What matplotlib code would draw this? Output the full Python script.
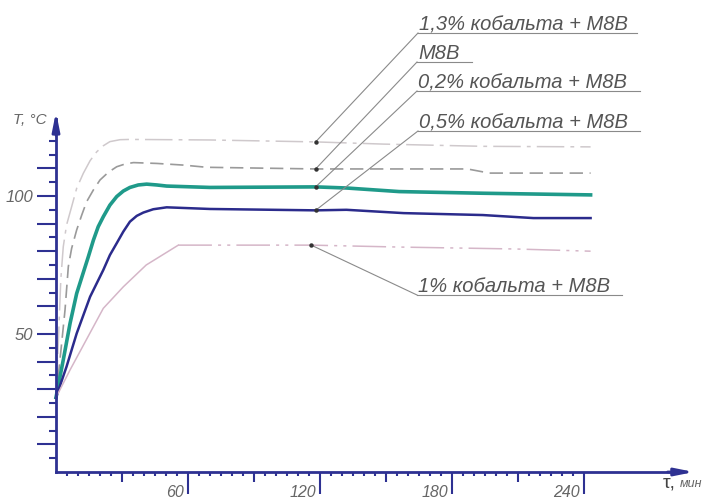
import numpy as np
import matplotlib
matplotlib.use("Agg")
import matplotlib.pyplot as plt
from matplotlib.ticker import FixedLocator, FixedFormatter

# ---------------- data ----------------
t_13 = [0, 1.2, 2.2, 3.3, 4.8, 7.1, 9.4, 12.4, 15.5, 18.5, 21.5, 24.5, 29.1, 33.6, 70, 118, 149, 194, 243]
v_13 = [27, 50, 70, 81.6, 89.5, 96.1, 102.8, 108.2, 112.8, 116, 118.2, 119.7, 120.4, 120.5, 120.3, 119.6, 118.8, 118, 117.8]

t_m8b = [0, 1.8, 4.1, 5.6, 7.1, 9.4, 11.7, 13.9, 17, 20, 23.8, 27.6, 31.4, 35.2, 45.8, 57.9, 68.5, 118, 187, 197, 243]
v_m8b = [27, 40.6, 58.7, 74.4, 81, 87.7, 93.1, 97.9, 102.2, 105.8, 108.6, 110.6, 111.6, 112.1, 111.8, 111.2, 110.4, 109.8, 109.8, 108.3, 108.3]

t_02 = [0, 3.3, 6.4, 9.4, 13.5, 14.7, 17, 19.2, 21.5, 24.5, 27.6, 30.6, 33.6, 37.4, 41.2, 45.8, 50.3, 70, 118, 132, 156, 194, 243]
v_02 = [27, 40.6, 53.9, 64.7, 75, 78, 84, 88.9, 92.5, 96.7, 99.8, 101.8, 103.1, 104, 104.3, 104, 103.6, 103.1, 103.3, 102.9, 101.6, 101, 100.4]

t_05 = [0, 4.8, 9.4, 15.5, 21.5, 24.5, 27.6, 30.6, 33.6, 36.7, 39.7, 44.2, 50.3, 70, 118, 132, 158, 194, 217, 243]
v_05 = [27, 38.2, 50.2, 63.5, 73.2, 78.6, 82.9, 87.1, 90.7, 92.8, 94, 95.2, 95.9, 95.3, 94.8, 95, 93.8, 93.1, 92, 92]

t_10 = [0, 6.4, 21.5, 30.6, 41, 55.6, 116, 156, 209, 243]
v_10 = [27, 37, 59.3, 67.1, 75, 82.2, 82.2, 81.5, 80.8, 80]

labels = ["1,3% кобальта + М8В", "М8В", "0,2% кобальта + М8В",
          "0,5% кобальта + М8В", "1% кобальта + М8В"]
x_major = [60, 120, 180, 240]
x_major_labels = ["60", "120", "180", "240"]
x_mid = [30, 90, 150, 210]
y_major = [10, 20, 30, 40, 50, 60, 70, 80, 90, 100, 110]
y_major_labels = ["", "", "", "", "50", "", "", "", "", "100", ""]
y_minor = [5, 15, 25, 35, 45, 55, 65, 75, 85, 95, 105, 115, 120]

# ---------------- figure ----------------
W, H = 709, 501
X0, Y0 = 56, 472          # pixel of origin
SX, SY = 2.2, 2.76        # px per unit
fig = plt.figure(figsize=(W / 100, H / 100), dpi=100)
ax = fig.add_axes([0, 0, 1, 1])
ax.set_xlim(-X0 / SX, (W - X0) / SX)
ax.set_ylim(-(H - Y0) / SY, Y0 / SY)
ax.patch.set_alpha(0)

FONT = ["Liberation Sans", "DejaVu Sans"]
AXC = "#2e3192"
TXT = "#555555"

for s in ("top", "right"):
    ax.spines[s].set_visible(False)
ax.spines["left"].set_position(("data", 0))
ax.spines["bottom"].set_position(("data", 0))
ax.spines["left"].set_bounds(0, 128)
ax.spines["bottom"].set_bounds(0, 284)
for s in ("left", "bottom"):
    ax.spines[s].set_color(AXC)
    ax.spines[s].set_linewidth(2)

# arrows
ax.annotate("", xy=(290, 0), xytext=(278, 0),
            arrowprops=dict(arrowstyle="-|>,head_length=1.1,head_width=0.22",
                            color=AXC, lw=2, shrinkA=0, shrinkB=0))
ax.annotate("", xy=(0, 130.5), xytext=(0, 122),
            arrowprops=dict(arrowstyle="-|>,head_length=1.1,head_width=0.22",
                            color=AXC, lw=2, shrinkA=0, shrinkB=0))

# ticks
ax.xaxis.set_major_locator(FixedLocator(x_major))
ax.xaxis.set_major_formatter(FixedFormatter([""] * len(x_major)))
ax.xaxis.set_minor_locator(FixedLocator([m for m in range(5, 241, 5) if m % 30 != 0]))
ax.tick_params(axis="x", which="major", direction="out", length=16, width=1.5, color=AXC)
ax.tick_params(axis="x", which="minor", direction="out", length=2.6, width=1.5, color=AXC)
ax.vlines(x_mid, -10 / SY, 0, color=AXC, lw=1.5)

ax.yaxis.set_major_locator(FixedLocator(y_major))
ax.yaxis.set_major_formatter(FixedFormatter(y_major_labels))
ax.yaxis.set_minor_locator(FixedLocator(y_minor))
ax.tick_params(axis="y", which="major", direction="out", length=13.5, width=1.5,
               color=AXC, pad=3, labelsize=12, labelcolor="#666666")
ax.tick_params(axis="y", which="minor", direction="out", length=5, width=1.5, color=AXC)
for lbl in ax.get_yticklabels():
    lbl.set_family(FONT)
    lbl.set_style("italic")

for xv, s in zip(x_major, x_major_labels):
    ax.text(xv - 1.8, -(492.5 - Y0) / SY, s, ha="right", va="center",
            fontsize=11.5, style="italic", color="#666666", family=FONT)

ax.text(-(X0 - 13) / SX, (Y0 - 120) / SY, "T, °C", ha="left", va="center",
        fontsize=11, style="italic", color="#666666", family=FONT)
ax.text((663 - X0) / SX, -(483 - Y0) / SY, "τ,", ha="left", va="center",
        fontsize=14, color="#444444", family=FONT)
ax.text((680 - X0) / SX, -(484 - Y0) / SY, "мин", ha="left", va="center",
        fontsize=9, style="italic", color="#666666", family=FONT)

# ---------------- curves ----------------
l13, = ax.plot(t_13, v_13, color="#cfc9cc", lw=1.1)
l13.set_dashes([18, 4, 2.5, 4])
lm, = ax.plot(t_m8b, v_m8b, color="#9a9a9a", lw=1.2)
lm.set_dashes([8, 4])
ax.plot(t_02, v_02, color="#1f9a8a", lw=2.6, solid_joinstyle="round")
ax.plot(t_05, v_05, color="#2b2b8c", lw=1.8, solid_joinstyle="round")
k = t_10.index(55.6)
ax.plot(t_10[:k + 1], v_10[:k + 1], color="#d5b6c8", lw=1.1)
l10, = ax.plot(t_10[k:], v_10[k:], color="#d5b6c8", lw=1.1)
l10.set_dashes([22, 4, 2, 4, 2, 4])

# ---------------- leaders / labels ----------------
dot_t = [118, 118, 118, 118, 116]
series = [(t_13, v_13), (t_m8b, v_m8b), (t_02, v_02), (t_05, v_05), (t_10, v_10)]
ul_y_px = [33, 62, 91, 131, 295]
ul_x0_px = [418, 417, 417, 418, 417]
ul_x1_px = [637, 472, 640, 640, 622]
for (ts, vs), dt, lab, uy, ux0, ux1 in zip(series, dot_t, labels, ul_y_px, ul_x0_px, ul_x1_px):
    dv = float(np.interp(dt, ts, vs))
    yy = (Y0 - uy) / SY
    x0 = (ux0 - X0) / SX
    x1 = (ux1 - X0) / SX
    ax.plot([dt, x0], [dv, yy], color="#8a8a8a", lw=0.8)
    ax.plot([x0, x1], [yy, yy], color="#8a8a8a", lw=0.8)
    ax.plot([dt], [dv], "o", ms=2.2, color="#333333")
    ax.text(x0 + 0.5, yy + 1.0, lab, ha="left", va="baseline", fontsize=14.5,
            style="italic", color=TXT, family=FONT)

fig.savefig("out.png", dpi=100)
